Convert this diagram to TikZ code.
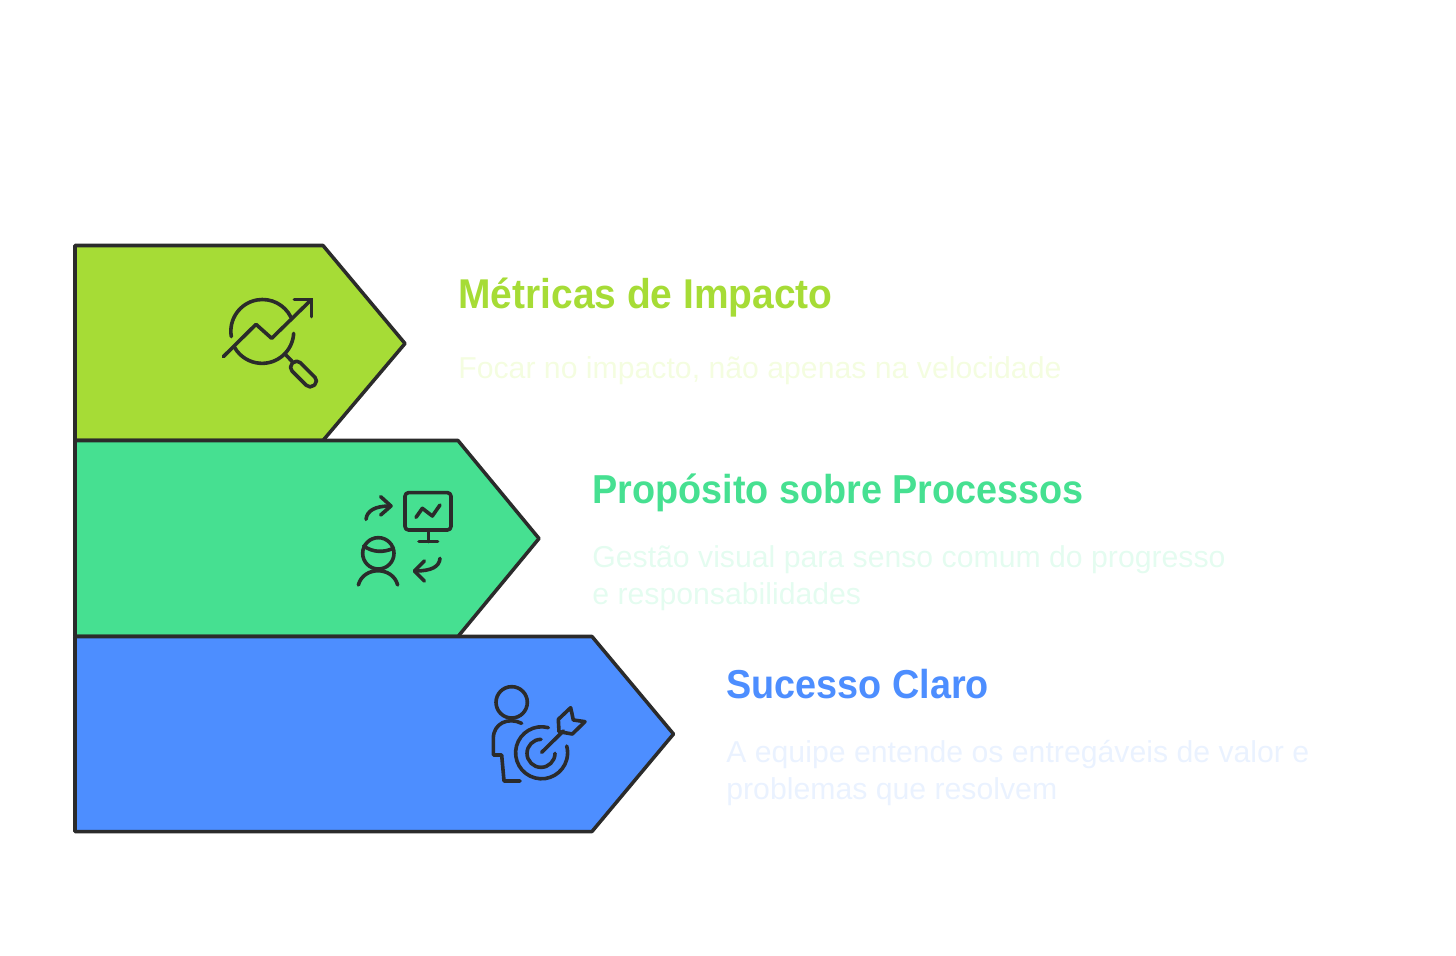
\documentclass[tikz,border=0pt]{standalone}
\usepackage{fontspec}
\setmainfont{Liberation Sans}
\newfontfamily\headfont[FakeStretch=0.935]{Liberation Sans}
\definecolor{limebar}{HTML}{A6DC36}
\definecolor{mintbar}{HTML}{46E091}
\definecolor{bluebar}{HTML}{4D8EFF}
\definecolor{limepale}{HTML}{F4FDE0}
\definecolor{mintpale}{HTML}{E4FCF0}
\definecolor{bluepale}{HTML}{EAF2FF}
\definecolor{inkline}{HTML}{2B2B2B}
\tikzset{
  bar/.style   = {draw=inkline, line width=2pt, line join=round},
  glyph/.style = {draw=inkline, line width=2.05pt, line cap=round, line join=round},
  head/.style  = {anchor=base west, inner sep=0pt, font=\headfont\fontsize{23}{26}\selectfont\bfseries},
  body/.style  = {anchor=base west, inner sep=0pt, align=left, font=\fontsize{17.2}{21}\selectfont},
}
\begin{document}
\begin{tikzpicture}[x=0.02cm, y=-0.02cm]
      \useasboundingbox (0, 0) rectangle (1456, 956);

      % bars
      \draw[bar, fill=limebar] (75, 245.5) -- (323, 245.5) -- (405, 343.5) -- (323, 440.5) -- (75, 440.5) -- cycle;
      \draw[bar, fill=mintbar] (75, 440.5) -- (458, 440.5) -- (539, 538.5) -- (458, 636.5) -- (75, 636.5) -- cycle;
      \draw[bar, fill=bluebar] (75, 636.5) -- (592, 636.5) -- (673.5, 734) -- (592, 831.5) -- (75, 831.5) -- cycle;

      % texts
      \node[head, text=limebar, font=\headfont\fontsize{23.7}{26}\selectfont\bfseries] (metricas) at (458, 308.5) {Métricas de Impacto};
      \node[body, text=limepale] (metricastext) at (458, 378) {Focar no impacto, não apenas na velocidade};
      \node[head, text=mintbar] (proposito) at (592, 503.5) {Propósito sobre Processos};
      \node[body, text=mintpale] (propositotext) at (592, 567) {Gestão visual para senso comum do progresso};
      \node[body, text=mintpale] (propositomore) at (592, 604) {e responsabilidades};
      \node[head, text=bluebar] (sucesso)   at (726, 698.5) {Sucesso Claro};
      \node[body, text=bluepale] (sucessotext) at (726, 762) {A equipe entende os entregáveis de valor e};
      \node[body, text=bluepale] (sucessomore) at (726, 799) {problemas que resolvem};

      % magnifier icon
      \begin{scope}[shift={(200, 280)}, scale=1/3]
        \draw[glyph] (94, 170) arc (170:334:95);
        \draw[glyph] (281, 160) arc (3:150:95);
        \draw[glyph] (70, 230) -- (168, 133) -- (215, 175) -- (335, 58);
        \draw[glyph] (283, 58) -- (335, 58) -- (335, 110);
        \draw[glyph] (255, 222) -- (277, 245);
        \draw[glyph, rounded corners=3pt] (290, 237) -- (356, 303) -- (330, 327) -- (265, 262) -- cycle;
      \end{scope}

      % screen and person icon
      \begin{scope}[shift={(345, 480)}, scale=1/3]
        \draw[glyph, rounded corners=2pt] (180, 38) rectangle (318, 150);
        \draw[glyph] (250, 150) -- (250, 185);
        \draw[glyph] (222, 185) -- (278, 185);
        \draw[glyph] (213, 112) -- (232, 85) -- (262, 108) -- (285, 75);
        \draw[glyph] (63, 118) .. controls (66, 92) and (90, 78) .. (135, 78);
        \draw[glyph] (107, 50) -- (138, 78) -- (107, 105);
        \draw[glyph] (100, 220) circle (47);
        \draw[glyph] (56, 198) .. controls (85, 218) and (115, 218) .. (145, 205);
        \draw[glyph] (40, 315) .. controls (55, 258) and (143, 258) .. (158, 315);
        \draw[glyph] (285, 235) .. controls (283, 260) and (260, 273) .. (210, 273);
        \draw[glyph] (238, 243) -- (208, 273) -- (238, 303);
      \end{scope}

      % person and target icon
      \begin{scope}[shift={(480, 675)}, scale=1/3]
        \draw[glyph] (95, 82) circle (47);
        \draw[glyph] (125, 145) .. controls (85, 125) and (40, 145) .. (40, 190) -- (40, 240) -- (65, 240) -- (72, 318) -- (120, 318);
        \draw[glyph] (205, 158) arc (285:-15:78);
        \draw[glyph] (183, 193) arc (270:0:42);
        \draw[glyph] (185, 232) -- (250, 168);
        \draw[glyph] (235, 133) -- (272, 98) -- (280, 135) -- (315, 140) -- (277, 177) -- (237, 170) -- cycle;
      \end{scope}
    \end{tikzpicture}
\end{document}
